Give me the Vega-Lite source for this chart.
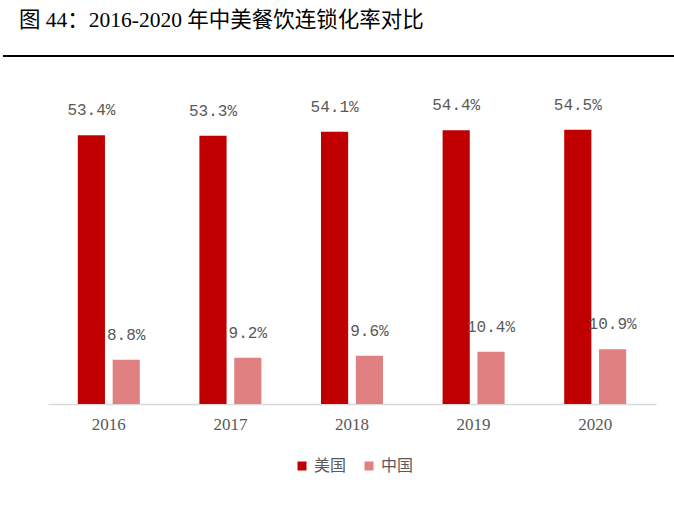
{
  "$schema": "https://vega.github.io/schema/vega-lite/v6.json",
  "padding": {"left": 1, "top": 10, "right": 0, "bottom": 5},
  "background": "white",
  "title": {
    "text": "图 44：2016-2020 年中美餐饮连锁化率对比",
    "anchor": "start",
    "dx": 17,
    "font": "Liberation Serif, Noto Sans CJK SC",
    "fontSize": 21.5,
    "fontWeight": "normal",
    "color": "#000000",
    "offset": 23
  },
  "config": {
    "view": {"stroke": null},
    "concat": {"spacing": 38}
  },
  "vconcat": [
    {
      "width": 620,
      "height": 1,
      "data": {"values": [{"a": -0.0726, "b": 1.01, "y": 0}]},
      "mark": {"type": "rule", "color": "#000000", "strokeWidth": 2.2, "clip": false},
      "encoding": {
        "x": {"field": "a", "type": "quantitative", "axis": null, "scale": {"domain": [0, 1], "nice": false, "zero": false}},
        "x2": {"field": "b"},
        "y": {"field": "y", "type": "quantitative", "axis": null, "scale": {"domain": [0, 1]}}
      }
    },
    {
      "width": 608,
      "height": 302,
      "data": {
        "values": [
          {"year": "2016", "country": "美国", "rate": 53.4, "label": "53.4%"},
          {"year": "2016", "country": "中国", "rate": 8.8, "label": "8.8%"},
          {"year": "2017", "country": "美国", "rate": 53.3, "label": "53.3%"},
          {"year": "2017", "country": "中国", "rate": 9.2, "label": "9.2%"},
          {"year": "2018", "country": "美国", "rate": 54.1, "label": "54.1%"},
          {"year": "2018", "country": "中国", "rate": 9.6, "label": "9.6%"},
          {"year": "2019", "country": "美国", "rate": 54.4, "label": "54.4%"},
          {"year": "2019", "country": "中国", "rate": 10.4, "label": "10.4%"},
          {"year": "2020", "country": "美国", "rate": 54.5, "label": "54.5%"},
          {"year": "2020", "country": "中国", "rate": 10.9, "label": "10.9%"}
        ]
      },
      "encoding": {
        "x": {
          "field": "year",
          "type": "nominal",
          "scale": {"paddingInner": 0.49, "paddingOuter": 0.245},
          "axis": {
            "title": null,
            "domainColor": "#D9D9D9",
            "domainWidth": 1.5,
            "ticks": false,
            "labelAngle": 0,
            "labelFont": "Liberation Serif",
            "labelFontSize": 17,
            "labelColor": "#595959",
            "labelPadding": 12
          }
        },
        "xOffset": {
          "field": "country",
          "type": "nominal",
          "sort": ["美国", "中国"],
          "scale": {"paddingInner": 0.22}
        },
        "y": {
          "field": "rate",
          "type": "quantitative",
          "scale": {"domain": [0, 60]},
          "axis": {
            "domain": false,
            "ticks": false,
            "labels": false,
            "grid": false,
            "title": null,
            "minExtent": 45,
            "maxExtent": 45
          }
        }
      },
      "layer": [
        {
          "mark": {"type": "bar"},
          "encoding": {
            "color": {
              "field": "country",
              "type": "nominal",
              "sort": ["美国", "中国"],
              "scale": {"domain": ["美国", "中国"], "range": ["#C00000", "#E08080"]},
              "legend": {
                "title": null,
                "orient": "none",
                "legendX": 246,
                "legendY": 403,
                "direction": "horizontal",
                "symbolType": "square",
                "symbolSize": 81,
                "symbolStrokeWidth": 0,
                "labelFont": "Noto Sans CJK SC",
                "labelFontSize": 16,
                "labelColor": "#595959",
                "columnPadding": 14,
                "labelOffset": 4
              }
            }
          }
        },
        {
          "mark": {
            "type": "text",
            "baseline": "bottom",
            "dy": -17,
            "font": "Liberation Mono",
            "fontSize": 16,
            "color": "#595959"
          },
          "encoding": {"text": {"field": "label"}}
        }
      ]
    }
  ]
}
